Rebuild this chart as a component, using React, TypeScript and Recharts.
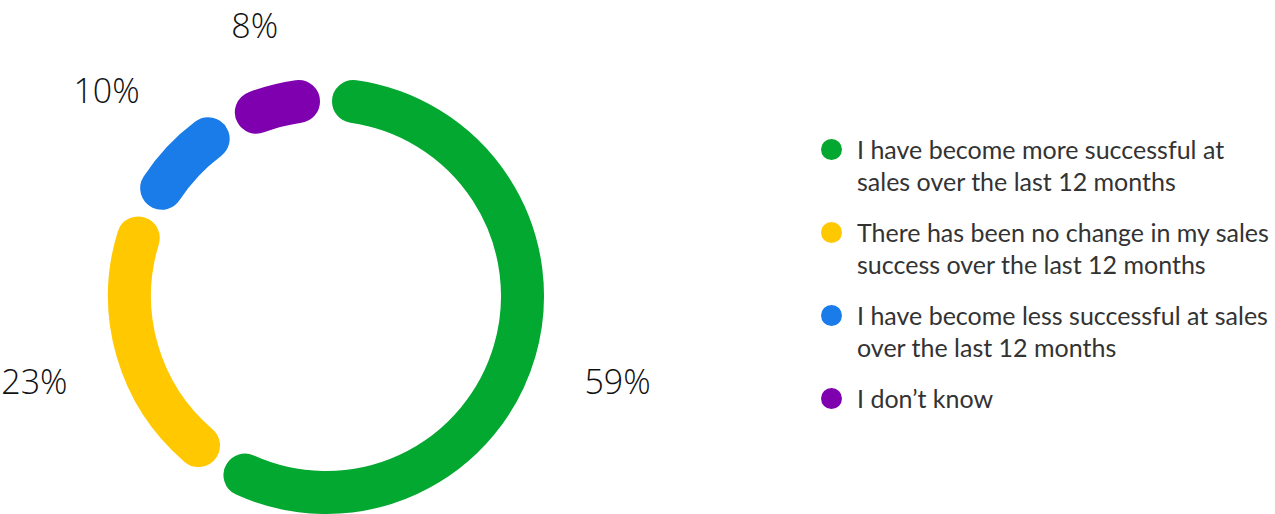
import React from 'react';
import { PieChart, Pie, Cell, Legend } from 'recharts';

const categories: string[] = [
  'I have become more successful at\nsales over the last 12 months',
  'There has been no change in my sales\nsuccess over the last 12 months',
  'I have become less successful at sales\nover the last 12 months',
  'I don\u2019t know',
];
const values: number[] = [59, 23, 10, 8];
const colors: string[] = ['#02a82f', '#ffc800', '#1a7ce8', '#7e00ae'];

const data = categories.map((name, i) => ({ name, value: values[i] }));

const RAD = Math.PI / 180;

const renderLabel = (props: any) => {
  const { cx, cy, midAngle, outerRadius, value } = props;
  const text = `${value}%`;
  const w = 17 * text.length + 16;
  const h = 25;
  const c = Math.cos(-midAngle * RAD);
  const s = Math.sin(-midAngle * RAD);
  const half = (Math.abs(c) * w) / 2 + (Math.abs(s) * h) / 2;
  const r = outerRadius + 44 + half;
  const x = cx + r * c;
  const y = Math.max(cy + r * s, 25);
  return (
    <text
      x={x}
      y={y}
      textAnchor="middle"
      dominantBaseline="central"
      fill="#111"
      style={{ fontFamily: '"Open Sans", sans-serif', fontSize: 34, fontWeight: 300 }}
    >
      {text}
    </text>
  );
};

const renderLegend = () => (
  <div style={{ fontFamily: 'Lato, sans-serif', fontSize: 25, color: '#333', lineHeight: '32px' }}>
    {categories.map((cat, i) => (
      <div key={i} style={{ position: 'relative', paddingLeft: 39, marginBottom: 19 }}>
        <span
          style={{
            position: 'absolute',
            left: 3,
            top: 6,
            width: 21,
            height: 21,
            borderRadius: '50%',
            background: colors[i],
          }}
        />
        {cat.split('\n').map((line, j) => (
          <div key={j} style={{ whiteSpace: 'nowrap' }}>{line}</div>
        ))}
      </div>
    ))}
  </div>
);

export default function App() {
  return (
    <div style={{ position: 'absolute', left: 0, top: 0, background: '#fff' }}>
      <PieChart width={1275} height={514} margin={{ top: 0, right: 0, bottom: 0, left: 0 }}>
        <Pie
          data={data}
          dataKey="value"
          nameKey="name"
          cx={326}
          cy={296}
          innerRadius={169}
          outerRadius={224}
          startAngle={90}
          endAngle={-270}
          paddingAngle={0}
          cornerRadius={27.5}
          stroke="#fff"
          strokeWidth={12}
          label={renderLabel}
          labelLine={false}
          isAnimationActive={false}
        >
          {data.map((d, i) => (
            <Cell key={d.name} fill={colors[i]} stroke="#fff" strokeWidth={12} />
          ))}
        </Pie>
        <Legend
          layout="vertical"
          align="right"
          verticalAlign="top"
          content={renderLegend}
          wrapperStyle={{ position: 'absolute', left: 818, top: 133, width: 457 }}
        />
      </PieChart>
    </div>
  );
}
